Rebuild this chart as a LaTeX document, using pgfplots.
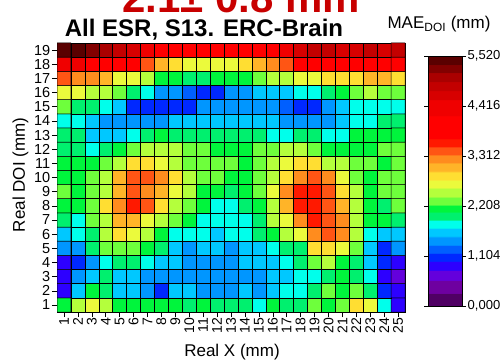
\documentclass[border=0pt]{standalone}
\usepackage{pgfplots}
\pgfplotsset{compat=1.18}
\usepackage{fontspec}
\setmainfont{Liberation Sans}
\definecolor{hdrred}{RGB}{200,0,0}
\begin{document}
\begin{tikzpicture}
\begin{axis}[
  at={(57bp,52bp)}, anchor=south west,
  scale only axis, width=348bp, height=269bp,
  xmin=0.5, xmax=25.5, ymin=0.5, ymax=19.5,
  xtick={1,...,25}, ytick={1,...,19},
  tick align=outside, tick pos=left, major tick length=5bp,
  tick style={black, line width=0.5pt},
  xticklabel style={rotate=90, anchor=east, font=\fontsize{14bp}{16bp}\selectfont, inner sep=1bp},
  yticklabel style={font=\fontsize{14.5bp}{16bp}\selectfont, inner sep=1.5bp},
  /pgf/number format/assume math mode=true,
  axis line style={black, line width=0.6pt},
  colormap={mae}{rgb255(0cm)=(80,0,100); rgb255(0.278cm)=(80,0,100);
rgb255(0.282cm)=(110,0,160); rgb255(0.568cm)=(110,0,160);
rgb255(0.572cm)=(100,0,220); rgb255(0.788cm)=(100,0,220);
rgb255(0.792cm)=(45,0,255); rgb255(0.978cm)=(45,0,255);
rgb255(0.982cm)=(0,40,255); rgb255(1.158cm)=(0,40,255);
rgb255(1.162cm)=(0,95,255); rgb255(1.348cm)=(0,95,255);
rgb255(1.352cm)=(0,150,255); rgb255(1.528cm)=(0,150,255);
rgb255(1.532cm)=(0,200,255); rgb255(1.708cm)=(0,200,255);
rgb255(1.712cm)=(0,255,235); rgb255(1.898cm)=(0,255,235);
rgb255(1.902cm)=(0,240,110); rgb255(2.068cm)=(0,240,110);
rgb255(2.072cm)=(0,245,60); rgb255(2.228cm)=(0,245,60);
rgb255(2.232cm)=(110,255,60); rgb255(2.408cm)=(110,255,60);
rgb255(2.412cm)=(180,255,60); rgb255(2.598cm)=(180,255,60);
rgb255(2.602cm)=(235,250,60); rgb255(2.778cm)=(235,250,60);
rgb255(2.782cm)=(255,222,50); rgb255(2.968cm)=(255,222,50);
rgb255(2.972cm)=(255,180,40); rgb255(3.148cm)=(255,180,40);
rgb255(3.152cm)=(255,140,30); rgb255(3.328cm)=(255,140,30);
rgb255(3.332cm)=(255,85,20); rgb255(3.518cm)=(255,85,20);
rgb255(3.522cm)=(255,25,0); rgb255(3.698cm)=(255,25,0);
rgb255(3.702cm)=(255,0,0); rgb255(4.198cm)=(255,0,0);
rgb255(4.202cm)=(240,0,0); rgb255(4.548cm)=(240,0,0);
rgb255(4.552cm)=(215,0,0); rgb255(4.748cm)=(215,0,0);
rgb255(4.752cm)=(195,0,0); rgb255(4.948cm)=(195,0,0);
rgb255(4.952cm)=(170,0,0); rgb255(5.148cm)=(170,0,0);
rgb255(5.152cm)=(130,0,0); rgb255(5.328cm)=(130,0,0);
rgb255(5.332cm)=(90,0,0); rgb255(5.52cm)=(90,0,0)},
  point meta min=0, point meta max=5.52,
  colorbar,
  colorbar/width=34bp,
  colorbar style={
    at={(parent axis.north east)}, anchor=north west,
    xshift=14.5bp, yshift=-13bp,
    scale only axis, width=34bp, height=250bp,
    ytick={0,1.104,2.208,3.312,4.416,5.52},
    yticklabel style={font=\fontsize{13bp}{15bp}\selectfont, inner sep=1.5bp, /pgf/number format/.cd, fixed, fixed zerofill, precision=3, use comma, 1000 sep={}, assume math mode=true},
    tick align=outside, major tick length=4bp,
    tick style={black, line width=0.5pt},
    axis line style={black, line width=0.6pt},
    yticklabel pos=right,
  },
]
\addplot[matrix plot*, mesh/cols=25, point meta=explicit, draw=black, line width=0.5pt] coordinates {
(1,1)[2.1] (2,1)[2.5] (3,1)[2.65] (4,1)[2.45] (5,1)[2.1] (6,1)[2.1] (7,1)[2.1] (8,1)[2.1] (9,1)[2.1] (10,1)[2.05] (11,1)[2.1] (12,1)[2.05] (13,1)[2.05] (14,1)[2.05] (15,1)[1.8] (16,1)[2.1] (17,1)[2.05] (18,1)[2.05] (19,1)[2.3] (20,1)[2.1] (21,1)[2.3] (22,1)[2.9] (23,1)[2.72] (24,1)[1.8] (25,1)[0.9]
(1,2)[0.9] (2,2)[1.6] (3,2)[2.1] (4,2)[2.05] (5,2)[1.62] (6,2)[1.6] (7,2)[1.45] (8,2)[1.1] (9,2)[1.6] (10,2)[1.62] (11,2)[1.45] (12,2)[1.45] (13,2)[1.5] (14,2)[1.6] (15,2)[1.5] (16,2)[1.62] (17,2)[1.78] (18,2)[1.78] (19,2)[2.05] (20,2)[2.3] (21,2)[2.1] (22,2)[2.3] (23,2)[2.05] (24,2)[1.1] (25,2)[0.9]
(1,3)[0.88] (2,3)[1.45] (3,3)[1.6] (4,3)[2.05] (5,3)[1.62] (6,3)[1.62] (7,3)[1.45] (8,3)[1.45] (9,3)[1.45] (10,3)[1.45] (11,3)[1.45] (12,3)[1.45] (13,3)[1.45] (14,3)[1.45] (15,3)[1.45] (16,3)[1.6] (17,3)[1.62] (18,3)[1.78] (19,3)[1.8] (20,3)[2.05] (21,3)[2.1] (22,3)[2.05] (23,3)[1.78] (24,3)[0.88] (25,3)[0.7]
(1,4)[0.95] (2,4)[1.1] (3,4)[1.45] (4,4)[1.78] (5,4)[2.05] (6,4)[2.05] (7,4)[1.8] (8,4)[1.62] (9,4)[1.6] (10,4)[1.5] (11,4)[1.5] (12,4)[1.45] (13,4)[1.45] (14,4)[1.6] (15,4)[1.6] (16,4)[1.62] (17,4)[1.78] (18,4)[2.05] (19,4)[2.3] (20,4)[2.45] (21,4)[2.1] (22,4)[2.05] (23,4)[1.62] (24,4)[1.05] (25,4)[0.88]
(1,5)[1.45] (2,5)[1.45] (3,5)[2.05] (4,5)[2.3] (5,5)[2.3] (6,5)[2.3] (7,5)[2.1] (8,5)[2.05] (9,5)[1.6] (10,5)[1.5] (11,5)[1.6] (12,5)[1.6] (13,5)[1.5] (14,5)[1.6] (15,5)[1.62] (16,5)[1.78] (17,5)[2.05] (18,5)[2.05] (19,5)[2.8] (20,5)[2.87] (21,5)[2.72] (22,5)[2.3] (23,5)[1.62] (24,5)[1.1] (25,5)[1.45]
(1,6)[1.62] (2,6)[1.78] (3,6)[2.05] (4,6)[2.45] (5,6)[2.87] (6,6)[2.72] (7,6)[2.45] (8,6)[2.1] (9,6)[1.8] (10,6)[1.8] (11,6)[1.75] (12,6)[1.65] (13,6)[1.75] (14,6)[1.78] (15,6)[2.05] (16,6)[2.1] (17,6)[2.5] (18,6)[2.72] (19,6)[3.2] (20,6)[3.35] (21,6)[3.2] (22,6)[2.45] (23,6)[1.8] (24,6)[1.62] (25,6)[1.65]
(1,7)[2.05] (2,7)[1.8] (3,7)[2.3] (4,7)[2.55] (5,7)[3.05] (6,7)[3.05] (7,7)[2.72] (8,7)[2.45] (9,7)[2.3] (10,7)[2.1] (11,7)[1.8] (12,7)[1.78] (13,7)[1.75] (14,7)[1.78] (15,7)[2.05] (16,7)[2.45] (17,7)[2.72] (18,7)[3.2] (19,7)[3.6] (20,7)[3.42] (21,7)[3.2] (22,7)[2.55] (23,7)[2.1] (24,7)[2.1] (25,7)[2.05]
(1,8)[2.1] (2,8)[2.1] (3,8)[2.3] (4,8)[2.87] (5,8)[3.22] (6,8)[3.6] (7,8)[3.42] (8,8)[2.87] (9,8)[2.55] (10,8)[2.3] (11,8)[2.1] (12,8)[1.8] (13,8)[1.8] (14,8)[2.05] (15,8)[2.1] (16,8)[2.55] (17,8)[3.05] (18,8)[3.6] (19,8)[3.65] (20,8)[3.45] (21,8)[3.05] (22,8)[2.5] (23,8)[2.1] (24,8)[2.05] (25,8)[2.3]
(1,9)[2.3] (2,9)[2.1] (3,9)[2.3] (4,9)[2.5] (5,9)[3.05] (6,9)[3.42] (7,9)[3.25] (8,9)[3.1] (9,9)[2.72] (10,9)[2.5] (11,9)[2.1] (12,9)[2.1] (13,9)[2.05] (14,9)[2.1] (15,9)[2.3] (16,9)[2.72] (17,9)[3.22] (18,9)[3.6] (19,9)[3.6] (20,9)[3.42] (21,9)[2.87] (22,9)[2.45] (23,9)[2.1] (24,9)[2.3] (25,9)[2.3]
(1,10)[2.1] (2,10)[2.1] (3,10)[2.3] (4,10)[2.5] (5,10)[3.05] (6,10)[3.42] (7,10)[3.42] (8,10)[3.22] (9,10)[2.87] (10,10)[2.5] (11,10)[2.35] (12,10)[2.3] (13,10)[2.15] (14,10)[2.1] (15,10)[2.3] (16,10)[2.55] (17,10)[2.87] (18,10)[3.22] (19,10)[3.42] (20,10)[3.25] (21,10)[2.72] (22,10)[2.35] (23,10)[2.1] (24,10)[2.3] (25,10)[2.3]
(1,11)[2.1] (2,11)[2.1] (3,11)[2.1] (4,11)[2.3] (5,11)[2.55] (6,11)[2.87] (7,11)[2.87] (8,11)[2.72] (9,11)[2.55] (10,11)[2.35] (11,11)[2.35] (12,11)[2.3] (13,11)[2.3] (14,11)[2.1] (15,11)[2.3] (16,11)[2.45] (17,11)[2.72] (18,11)[2.87] (19,11)[2.87] (20,11)[2.55] (21,11)[2.45] (22,11)[2.3] (23,11)[2.3] (24,11)[2.15] (25,11)[2.3]
(1,12)[2.05] (2,12)[2.05] (3,12)[1.8] (4,12)[2.05] (5,12)[2.1] (6,12)[2.3] (7,12)[2.55] (8,12)[2.45] (9,12)[2.45] (10,12)[2.35] (11,12)[2.35] (12,12)[2.15] (13,12)[2.1] (14,12)[2.15] (15,12)[2.3] (16,12)[2.3] (17,12)[2.45] (18,12)[2.5] (19,12)[2.35] (20,12)[2.15] (21,12)[2.1] (22,12)[2.1] (23,12)[2.15] (24,12)[2.3] (25,12)[2.3]
(1,13)[2.05] (2,13)[2.05] (3,13)[1.6] (4,13)[1.6] (5,13)[1.6] (6,13)[1.8] (7,13)[2.05] (8,13)[2.1] (9,13)[2.05] (10,13)[2.05] (11,13)[2.05] (12,13)[2.05] (13,13)[2.05] (14,13)[2.05] (15,13)[2.05] (16,13)[1.8] (17,13)[1.8] (18,13)[2.0] (19,13)[2.05] (20,13)[1.8] (21,13)[1.8] (22,13)[2.1] (23,13)[2.1] (24,13)[2.1] (25,13)[2.1]
(1,14)[1.8] (2,14)[1.8] (3,14)[1.6] (4,14)[1.5] (5,14)[1.45] (6,14)[1.45] (7,14)[1.45] (8,14)[1.5] (9,14)[1.6] (10,14)[1.62] (11,14)[1.62] (12,14)[1.62] (13,14)[1.62] (14,14)[1.6] (15,14)[1.6] (16,14)[1.62] (17,14)[1.45] (18,14)[1.45] (19,14)[1.45] (20,14)[1.5] (21,14)[1.62] (22,14)[1.8] (23,14)[1.8] (24,14)[2.05] (25,14)[2.05]
(1,15)[2.3] (2,15)[2.05] (3,15)[2.05] (4,15)[1.8] (5,15)[1.6] (6,15)[1.1] (7,15)[1.05] (8,15)[1.1] (9,15)[1.05] (10,15)[1.1] (11,15)[1.45] (12,15)[1.45] (13,15)[1.45] (14,15)[1.45] (15,15)[1.45] (16,15)[1.4] (17,15)[1.2] (18,15)[1.05] (19,15)[1.1] (20,15)[1.45] (21,15)[1.6] (22,15)[1.8] (23,15)[1.8] (24,15)[1.8] (25,15)[1.8]
(1,16)[2.72] (2,16)[2.72] (3,16)[2.55] (4,16)[2.45] (5,16)[2.3] (6,16)[2.0] (7,16)[1.8] (8,16)[1.45] (9,16)[1.45] (10,16)[1.2] (11,16)[1.1] (12,16)[1.1] (13,16)[1.4] (14,16)[1.4] (15,16)[1.6] (16,16)[1.6] (17,16)[1.6] (18,16)[1.8] (19,16)[1.8] (20,16)[2.05] (21,16)[2.1] (22,16)[2.3] (23,16)[2.45] (24,16)[2.35] (25,16)[2.3]
(1,17)[3.42] (2,17)[3.22] (3,17)[3.2] (4,17)[3.05] (5,17)[2.72] (6,17)[2.72] (7,17)[2.45] (8,17)[2.1] (9,17)[2.1] (10,17)[2.0] (11,17)[2.0] (12,17)[2.1] (13,17)[2.1] (14,17)[2.1] (15,17)[2.3] (16,17)[2.45] (17,17)[2.45] (18,17)[2.72] (19,17)[2.72] (20,17)[2.87] (21,17)[2.87] (22,17)[2.87] (23,17)[3.05] (24,17)[3.05] (25,17)[2.87]
(1,18)[4.4] (2,18)[4.4] (3,18)[4.0] (4,18)[4.0] (5,18)[4.0] (6,18)[3.8] (7,18)[3.42] (8,18)[3.05] (9,18)[2.87] (10,18)[2.72] (11,18)[2.72] (12,18)[2.7] (13,18)[2.72] (14,18)[2.87] (15,18)[3.05] (16,18)[3.22] (17,18)[3.42] (18,18)[3.9] (19,18)[3.9] (20,18)[3.9] (21,18)[3.9] (22,18)[3.9] (23,18)[3.9] (24,18)[3.9] (25,18)[3.9]
(1,19)[5.45] (2,19)[5.42] (3,19)[5.2] (4,19)[5.05] (5,19)[4.9] (6,19)[4.6] (7,19)[4.3] (8,19)[4.0] (9,19)[4.0] (10,19)[4.0] (11,19)[4.0] (12,19)[4.0] (13,19)[4.0] (14,19)[4.0] (15,19)[4.0] (16,19)[4.0] (17,19)[4.4] (18,19)[4.6] (19,19)[4.85] (20,19)[4.85] (21,19)[4.6] (22,19)[4.6] (23,19)[4.85] (24,19)[4.7] (25,19)[4.85]
};
\end{axis}
\node[anchor=base, text=hdrred, font=\fontsize{42bp}{44bp}\selectfont\bfseries] at (241bp,351bp) {2.1± 0.8 mm};
\node[anchor=base, font=\fontsize{24bp}{26bp}\selectfont\bfseries] at (204bp,327bp) {All ESR, S13. ERC-Brain};
\node[anchor=base, font=\fontsize{17bp}{19bp}\selectfont] at (439bp,335bp) {MAE\textsubscript{DOI} (mm)};
\node[rotate=90, font=\fontsize{17bp}{19bp}\selectfont] at (20.5bp,189bp) {Real DOI (mm)};
\node[font=\fontsize{17bp}{19bp}\selectfont] at (232bp,12bp) {Real X (mm)};
\pgfresetboundingbox
\useasboundingbox (0,0) rectangle (502bp,364bp);
\end{tikzpicture}
\end{document}
